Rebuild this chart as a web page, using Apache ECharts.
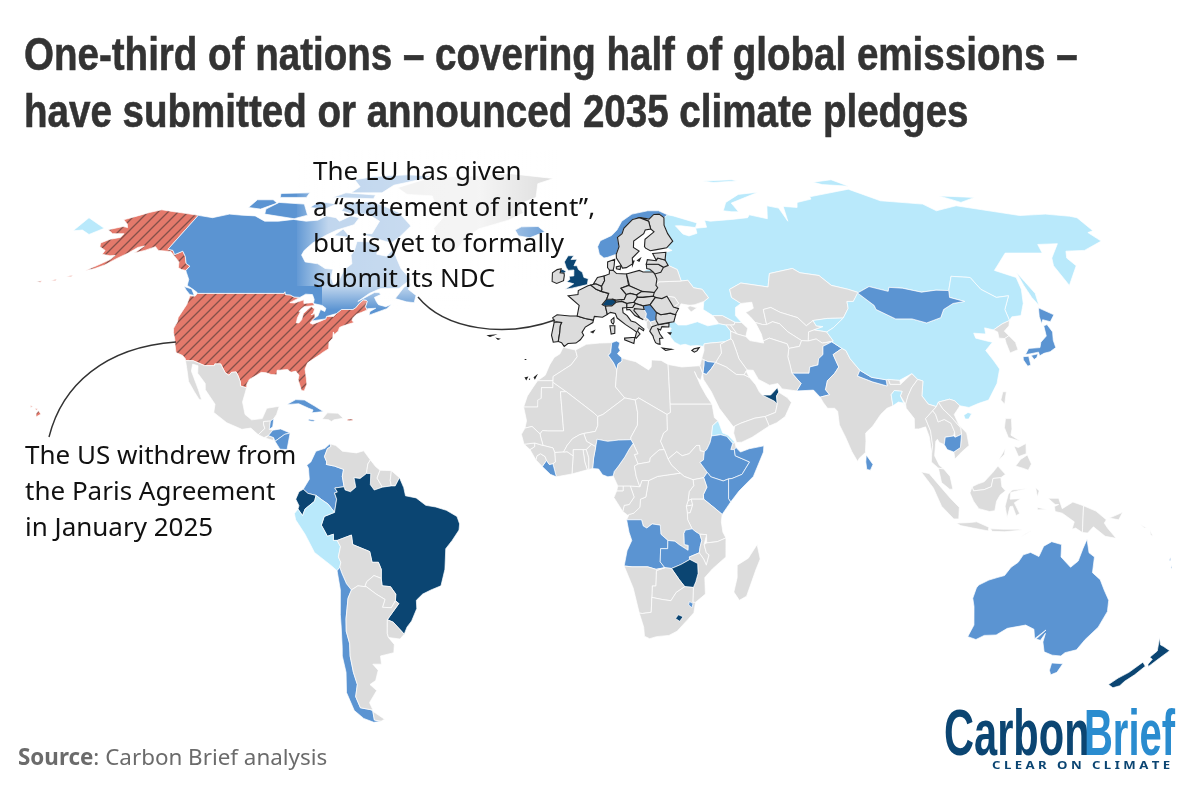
<!DOCTYPE html>
<html>
<head>
<meta charset="UTF-8">
<title>2035 climate pledges</title>
<script src="https://cdn.jsdelivr.net/npm/echarts@6/dist/echarts.min.js"></script>
<style>html,body{margin:0;background:#fff}</style>
</head>
<body>
<div id="main" style="width:1200px;height:793px;"></div>
<script type="text/javascript">
// pledge groups
var submittedStrong = ['Brazil','United Kingdom','Ecuador','Switzerland','United Arab Emirates','Zimbabwe','Lesotho','New Zealand'];
var submitted = ['Canada','Iceland','Norway','Honduras','Nicaragua','Belize','Cuba','Jamaica','Colombia','Chile','Tunisia','Jordan','Serbia','Nigeria','Liberia','Ethiopia','Somalia','Kenya','Angola','Zambia','Eswatini','Pakistan','Nepal','Sri Lanka','Mongolia','Japan','Cambodia','Australia','Vanuatu'];
var announced = ['Russia','China','Turkey','Peru','Eritrea','Bangladesh','Kyrgyzstan'];
var withdrawn = ['United States'];
var euMembers = ['Portugal','Spain','France','Belgium','Netherlands','Germany','Denmark','Poland','Czechia','Slovakia','Austria','Hungary','Slovenia','Italy','Croatia','Greece','Bulgaria','Romania','Lithuania','Latvia','Estonia','Finland','Sweden','Ireland','Cyprus'];

// country outlines, lon,lat
var borders = {
'United States':['-124.7,48.4 -123,48.3 -122.8,49 -95.2,49 -95.15,49.4 -94.6,48.7 -93,48.6 -91.5,48.1 -89.6,48 -92,46.7 -90.5,46.6 -88,47.4 -87.5,46.5 -85,46.7 -84.4,46.5 -84,46 -84.7,45.9 -87,45.7 -87.6,45.1 -88,44.5 -87.5,44.5 -87.8,43 -87.6,41.7 -86.8,41.7 -86.3,42.5 -86.4,44 -85.5,45 -84.8,45.75 -83.4,45.1 -83.4,44 -83.9,43.7 -82.9,44 -82.4,43 -83.1,42.2 -83.4,41.7 -82.5,41.4 -81,41.9 -79,42.7 -79,43.3 -76.8,43.3 -76.2,44 -75,45 -71.5,45 -70.8,45.4 -70,46.7 -69.2,47.4 -68.3,47.3 -67.8,47 -67.8,45.7 -67,44.9 -68.5,44.3 -70,43.8 -70.7,43 -70.8,42.3 -70,41.8 -71.2,41.5 -73,41 -74,40.6 -74.1,39.7 -75,38.9 -75.5,39.5 -75.2,38 -76,37 -75.6,35.4 -77,34.6 -78,33.9 -79.3,33.1 -81,32 -81.4,30.5 -80.5,28.3 -80,26.8 -80.4,25.2 -81.2,25.3 -81.8,26.3 -82.8,27.9 -82.8,29 -84,30 -85.3,29.7 -86.5,30.4 -88,30.3 -89.5,30.2 -89.3,29.1 -91,29.2 -92.5,29.6 -94,29.7 -95,29.1 -97,28 -97.4,26.9 -97.2,25.95 -99.1,26.4 -99.5,27.5 -100.7,29.1 -101.4,29.8 -102.7,29.7 -103.2,29 -104.5,29.6 -106.5,31.75 -108.2,31.75 -108.2,31.33 -111.07,31.33 -114.8,32.5 -117.1,32.55 -117.3,33 -118.4,33.8 -120.6,34.5 -121.9,36.6 -122.5,37.7 -123.8,39.4 -124.3,40.4 -124.1,42 -124.5,43 -124,46.3',
 '-141,69.65 -141,60.3 -139,60 -137.5,58.9 -135.5,59.8 -133.5,58.4 -131.8,56.6 -130,55.9 -130.5,54.8 -132,55 -133.5,55.5 -134.5,57 -136.5,58.1 -139.5,59.7 -144,60 -146,61 -148.5,60 -151.5,59.3 -150,61.2 -151.8,60.8 -153.5,59.3 -156,57.9 -158.5,56.2 -161,55.2 -163.5,54.8 -161,56 -158,57.6 -157.3,58.7 -159,58.6 -162,59 -162,60 -165,61 -166,62 -164,63 -161,63.5 -161,64.5 -165,64.5 -168,65.6 -164,66.5 -162,66.2 -163.5,67.2 -166.5,68.4 -163,69.5 -160,70.5 -156.5,71.3 -152,70.8 -148,70.4',
 '-168.5,53.2 -166.5,53.6 -166.8,53.2','-172.5,52.2 -171,52.6 -171,52.2','-177,51.9 -175.5,52.2 -175.5,51.8','-156.1,18.9 -154.8,19.6 -155.7,20.4 -156.2,19.7','-156.8,21 -156,20.9 -156.4,20.5','-158.3,21.7 -157.7,21.5 -158.1,21.2','-67.2,18.4 -65.6,18.4 -65.7,18 -67.2,18'],
'Canada':['-141,69.65 -135,69 -130,70 -125,69.7 -120,69.5 -115,68 -110,68 -105,68.5 -100,68 -96,68.3 -94,69.5 -90,69 -88,68 -85,69.5 -81.5,69 -82,67 -87,65.5 -90,64 -93,62 -94.5,60 -94.7,58.8 -92.5,57 -88,56.5 -85,55.3 -82.3,55.1 -82,53 -80.5,51.3 -79,51.5 -79,52.8 -78.5,55 -76.7,56.5 -78,58.7 -77.5,60 -78,62.4 -73.5,62.3 -70,61 -69.5,59 -66,58.5 -64.5,60.3 -62,57.5 -60,55.3 -56,52.5 -59,50.3 -65,50.2 -68,49 -70.8,47 -66.5,49.2 -65,49.2 -64.3,48.7 -66,48 -65,47 -64,46.2 -61.5,45.7 -60,46.3 -61,45.2 -66,43.6 -66,44.5 -64.5,45.3 -67,45.2 -67,44.9 -67.8,45.7 -67.8,47 -68.3,47.3 -69.2,47.4 -70,46.7 -70.8,45.4 -71.5,45 -75,45 -76.2,44 -79,43.3 -79,42.7 -83.1,42.2 -82.4,43 -81.7,43.4 -81.5,45 -80,44.5 -80,45.3 -81.5,46 -84,46.4 -84.5,46.5 -84.8,47.5 -86,48.7 -88.2,48.8 -89.6,48 -91.5,48.1 -93,48.6 -94.6,48.7 -95.15,49.4 -95.2,49 -122.8,49 -123.2,49.3 -125,50 -127.5,51 -128,52.5 -130,54.3 -130.5,54.8 -130,55.9 -131.8,56.6 -133.5,58.4 -135.5,59.8 -137.5,58.9 -139,60 -141,60.3',
 '-128.3,50.7 -125.5,50.1 -123.4,48.5 -125,48.7 -127,49.8','-59.3,47.7 -57.5,50.6 -55.5,51.5 -56,50 -53,48.5 -53,46.7 -55.5,46.9',
 '-61.5,66.6 -64,63.5 -66,62 -71,63 -78,64.5 -74,64.5 -73.5,68 -79,70 -85,70 -89.5,71 -89,73.5 -80,73.7 -76,72.8 -68,70.5 -62,67','-117,70 -105,68.7 -101,69.7 -105,73 -115,73.5 -118,71.5','-125,72 -120,71.5 -115.5,73.3 -118,74.3 -124,74.3','-90,76.5 -78,76.5 -75,79 -64,81.5 -62,82.5 -72,83 -85,82.3 -92,81 -88,78.5','-96,75 -80,74.6 -80,75.8 -92,76.5','-116,75 -106,75 -106,76.5 -117,76.3','-102,72 -96,71.5 -93,73 -100,73.8','-87,64 -81,63.5 -85,65.8'],
'Greenland':['-73,78.2 -68,76 -58,75.5 -54,71 -51,69 -53,66 -50,62 -45,60 -43,60 -41,63 -37,65.8 -27,68.3 -22,70.3 -24,73 -18,75 -18,79.5 -12,81.5 -30,83.5 -45,82.5 -60,82 -65,80.8'],
'Iceland':['-24,65.5 -22,66.4 -16,66.5 -13.5,65 -18.5,63.4 -22.5,63.9'],
'Mexico':['-117.1,32.55 -114.8,32.5 -111.07,31.33 -108.2,31.33 -108.2,31.75 -106.5,31.75 -104.5,29.6 -103.2,29 -102.7,29.7 -101.4,29.8 -100.7,29.1 -99.5,27.5 -99.1,26.4 -97.2,25.95 -97.7,22.5 -96.5,19.5 -94.5,18.2 -91.5,18.5 -90.5,21 -87,21.5 -87.5,19.5 -88.2,18.5 -89.1,17.9 -91,17.8 -91,17.2 -90.5,16.1 -92.2,14.6 -94.5,16.2 -97,15.9 -101.5,17.5 -105.5,20 -105.5,22 -109,25.5 -109.5,27 -112.5,29.5 -113,31.3 -114.7,31.7 -114.5,30 -111,25.5 -109.5,23 -110.3,23.2 -112,25 -114.5,27.5 -116,30.5'],
'Guatemala':['-92.2,14.6 -90.5,16.1 -91,17.2 -91,17.8 -89.1,17.9 -89.2,15.9 -88.2,15.7 -89.3,14.4 -90.5,13.9'],
'Belize':['-89.1,17.9 -88.2,18.5 -88.3,16.5 -89.2,15.9'],
'El Salvador':['-90.1,13.8 -89.3,14.4 -87.8,13.9 -87.8,13.2'],
'Honduras':['-89.3,14.4 -88.2,15.7 -86,16 -83.2,15 -84.7,14.7 -87.3,13 -87.8,13.9'],
'Nicaragua':['-87.3,13 -84.7,14.7 -83.2,15 -83.7,11 -85.7,11.1'],
'Cuba':['-84.9,21.9 -82.5,23.1 -80,23 -77,21.6 -74.2,20.2 -77.5,19.9 -77.2,20.6 -78.5,21 -81.5,22.1 -83.5,22'],
'Jamaica':['-78.3,18.4 -76.3,18.1 -76.9,17.8 -78.2,18'],
'Hispaniola':['-74.4,18.4 -73,19.9 -70,19.8 -68.4,18.6 -71,18.2 -71.7,17.8 -72.5,18.2'],
'Colombia':['-71.7,12.4 -71.3,11.8 -72.3,11.2 -73,9.3 -72.3,8 -72.4,7.4 -70.1,7 -67.5,6.2 -67.8,4.5 -67.3,2 -69.9,1.7 -69.2,0.7 -70,0.5 -69.4,-1 -70,-4.2 -71.8,-2.2 -73.5,-1.2 -75.2,-0.1 -77.5,0.4 -78.8,1.4 -77.1,3.8 -77.4,6.5 -77.9,7.2 -76.8,8 -75.5,10.6 -73,11.3'],
'Venezuela':['-71.7,12.4 -70,12 -68,10.6 -64,10.2 -62,10.7 -60,8.5 -60.7,7.5 -61,5.2 -62.8,4 -64.5,4.2 -64,1.9 -65.5,0.8 -67,1.2 -67.3,2 -67.8,4.5 -67.5,6.2 -70.1,7 -72.4,7.4 -72.3,8 -73,9.3 -72.3,11.2 -71.3,11.8'],
'Guyana':['-60,8.5 -58.5,6.9 -57.2,6 -58,4.1 -56.5,1.9 -58.8,1.2 -59.9,2.5 -59.8,5.2 -61,5.2 -60.7,7.5'],
'Suriname':['-57.2,6 -54,5.9 -54.3,3.5 -54,2.2 -56.5,1.9 -58,4.1'],
'French Guiana':['-54,5.9 -51.7,4.2 -52.9,2.2 -54,2.2 -54.3,3.5'],
'Brazil':['-51.7,4.2 -52.9,2.2 -54,2.2 -56.5,1.9 -58.8,1.2 -59.9,2.5 -59.8,5.2 -61,5.2 -62.8,4 -64.5,4.2 -64,1.9 -65.5,0.8 -67,1.2 -67.3,2 -69.9,1.7 -69.2,0.7 -70,0.5 -69.4,-1 -70,-4.2 -72.9,-5.2 -73.8,-7.3 -72.2,-10 -70.5,-9.5 -70.6,-11 -69.5,-11 -65.4,-9.7 -65.2,-12 -60.5,-13.7 -60.1,-16.3 -58.3,-16.3 -57.7,-18 -58,-20.2 -58,-22 -55.6,-22.2 -54.3,-24 -54.6,-25.6 -53.7,-26.3 -57.6,-30.2 -56,-30.8 -53.4,-33.7 -52.2,-32 -50.5,-30.5 -48.6,-27.5 -48.5,-25.5 -46.5,-24 -44,-23 -41,-22 -39.5,-18 -38.9,-13 -37,-11 -35,-8.5 -34.8,-7 -35.5,-5.2 -38.5,-3.7 -41.5,-2.9 -44.3,-2.5 -47,-0.7 -50,-0.2 -50.5,1.8'],
'Ecuador':['-75.2,-0.1 -77.5,0.4 -78.8,1.4 -80,0.8 -80.9,-1 -80,-2.6 -80.3,-3.4 -79,-5 -78.3,-3.4 -75.6,-1.5'],
'Peru':['-80.3,-3.4 -81.3,-4.5 -81,-6 -78.5,-9.5 -76.2,-13.9 -72,-17 -70.4,-18.35 -69.5,-17.5 -69,-16.3 -69.5,-15 -68.7,-12.5 -69.5,-11 -70.6,-11 -70.5,-9.5 -72.2,-10 -73.8,-7.3 -72.9,-5.2 -70,-4.2 -71.8,-2.2 -73.5,-1.2 -75.2,-0.1 -75.6,-1.5 -78.3,-3.4 -79,-5'],
'Bolivia':['-69.5,-11 -68.7,-12.5 -69.5,-15 -69,-16.3 -69.5,-17.5 -69.1,-19 -68.2,-21.5 -67,-23 -65,-22 -63,-22.2 -62.3,-21 -60,-19.5 -58,-20.2 -57.7,-18 -58.3,-16.3 -60.1,-16.3 -60.5,-13.7 -65.2,-12 -65.4,-9.7'],
'Paraguay':['-62.3,-21 -60,-19.5 -58,-20.2 -58,-22 -55.6,-22.2 -54.3,-24 -54.6,-25.6 -56,-27.3 -58.6,-27.2 -57.6,-25.3 -60,-24 -62.6,-22.2 -63,-22.2'],
'Chile':['-70.4,-18.35 -69.5,-17.5 -69.1,-19 -68.2,-21.5 -67,-23 -68.3,-25 -69.7,-30 -70.5,-33 -70.4,-36 -71.3,-39 -71.7,-43 -71.5,-46 -73,-49 -72.3,-51.8 -69,-52.3 -68.5,-52.7 -68.6,-54.9 -66.5,-55.2 -69,-55.5 -72,-54.5 -74.5,-52.5 -75.6,-48 -74,-43 -73.7,-39 -73,-37 -71.7,-32 -71.2,-29 -70.2,-23'],
'Argentina':['-67,-23 -65,-22 -63,-22.2 -62.6,-22.2 -60,-24 -57.6,-25.3 -58.6,-27.2 -56,-27.3 -54.6,-25.6 -53.7,-26.3 -57.6,-30.2 -58.4,-33.5 -58.3,-34.5 -57,-36.2 -57.7,-38.2 -62,-39 -62.3,-41 -65,-41 -63.8,-42.5 -65.4,-45 -67.5,-46 -65.8,-47.5 -69,-50.5 -68.4,-52.3 -69,-52.3 -72.3,-51.8 -73,-49 -71.5,-46 -71.7,-43 -71.3,-39 -70.4,-36 -70.5,-33 -69.7,-30 -68.3,-25','-68.5,-52.7 -65.2,-54.7 -66.5,-55.2 -68.6,-54.9'],
'Uruguay':['-57.6,-30.2 -56,-30.8 -53.4,-33.7 -54.9,-34.9 -58.3,-34.5 -58.4,-33.5'],
'Morocco':['-5.9,35.8 -2.2,35.1 -1.7,33.5 -3.5,31.5 -8.7,28.7 -8.7,27.67 -13.2,27.67 -11,29 -9.8,31.5 -8.5,33.3 -6.8,34.2'],
'Western Sahara':['-13.2,27.67 -8.7,27.67 -8.7,26 -12,26 -12,23.4 -13,21.3 -17,21.3 -16,24 -14.5,26'],
'Mauritania':['-17,21.3 -13,21.3 -13,23 -12,23.4 -12,26 -8.7,26 -8.7,27.3 -4.8,25 -6.5,25 -5.5,15.5 -10,15.5 -11.5,15.6 -12.2,14.8 -14.5,16.6 -16.5,16.2 -16.1,18'],
'Algeria':['-2.2,35.1 1,36.5 5,36.8 8.6,36.9 8.2,34.5 7.5,33.8 9,32 9.9,30.3 9.4,26.2 12,23.5 5.7,19.5 4.2,19 3.2,19.8 -4.8,25 -8.7,27.3 -8.7,28.7 -3.5,31.5 -1.7,33.5'],
'Tunisia':['8.6,36.9 10,37.3 11,36.9 10.6,35.7 11,35 10.2,34.2 11.5,33.2 11.5,32.4 10.3,31.7 9.9,30.3 9,32 7.5,33.8 8.2,34.5'],
'Libya':['11.5,33.2 13,32.8 15.5,32.3 19.2,30.3 20,31 20.2,32.7 23,32.6 25,31.6 25,22 25,20 24,19.5 16,23.5 15,23 12,23.5 9.4,26.2 9.9,30.3 10.3,31.7 11.5,32.4'],
'Egypt':['25,31.6 29,31 32.2,31.2 34.3,31.3 34.9,29.5 34.2,27.8 33.2,28.5 32.6,29.9 34,26.6 35.5,24 37,22 25,22'],
'Mali':['-12.2,14.8 -11.5,15.6 -10,15.5 -5.5,15.5 -6.5,25 -4.8,25 3.2,19.8 4.2,19 4.2,16.8 3.5,15.4 0.2,14.9 -1,14.6 -3,13.6 -4.5,12 -5.5,10.4 -8,10.3 -8.5,11.4 -11.3,12 -12,14'],
'Niger':['4.2,19 5.7,19.5 12,23.5 15,23 15.6,20 15.5,16.9 13.6,14 13.6,13.4 10,13.3 7,13 4,13.5 3.6,11.7 2.4,12.3 1,13 0.2,14.9 3.5,15.4 4.2,16.8'],
'Chad':['15,23 16,23.5 24,19.5 24,15.7 22.9,15 22,13 23,11 21.5,10.9 19,9 18.8,8 15.5,7.5 14.5,9.8 15.5,10 14.2,12.5 13.6,13.4 13.6,14 15.5,16.9 15.6,20'],
'Sudan':['25,22 37,22 37.5,18.7 38.5,18 36.9,16.8 36.5,14.3 36,12.7 35,11 34.3,10.5 33.1,10.7 33,12 32.5,12 32.1,12 30,10 28,9.5 26.5,10.5 24,8.7 23,11 22,13 22.9,15 24,15.7 24,19.5 25,20'],
'South Sudan':['33.1,10.7 34.3,10.5 34,8.5 33,7.9 35,5.5 34,4.2 31,3.7 28.5,4.5 27.4,5.3 25,7.2 24,8.7 26.5,10.5 28,9.5 30,10 32.1,12 32.5,12 33,12'],
'Eritrea':['38.5,18 39.7,15 41.2,14.5 43.1,12.7 42.4,12.5 40.8,14.2 39.1,14.6 36.5,14.3 36.9,16.8'],
'Djibouti':['43.1,12.7 43.3,11.5 42.8,11 41.8,11 42.4,12.5'],
'Ethiopia':['36.5,14.3 39.1,14.6 40.8,14.2 42.4,12.5 41.8,11 42.8,11 43,9.5 47,8 44.8,5 42,4 41,3.9 39.5,3.4 36,4.4 35,5.5 33,7.9 34,8.5 34.3,10.5 35,11 36,12.7'],
'Somalia':['43.3,11.5 44.5,10.4 47,11.2 51.2,11.9 51,10.4 48,4.5 44,1 41.6,-1.7 41,-0.9 41,3.9 42,4 44.8,5 47,8 43,9.5 42.8,11'],
'Kenya':['41,3.9 41,-0.9 41.6,-1.7 39.2,-4.7 37.7,-3.6 34,-1 33.9,0.1 34.9,1.9 34,4.2 35,5.5 36,4.4 39.5,3.4'],
'Uganda':['34,4.2 34.9,1.9 33.9,0.1 34,-1 30.5,-1 29.6,-1.4 29.9,0.8 31.2,2.3 31,3.7'],
'Rwanda':['30.5,-1 30.9,-2.4 29.1,-2.7 29.6,-1.4'],
'Burundi':['30.9,-2.4 30.2,-4.3 29.4,-4.4 29.1,-2.7'],
'Tanzania':['34,-1 37.7,-3.6 39.2,-4.7 39,-6.5 39.5,-9 40.4,-10.4 38,-11.3 35,-11.6 34.9,-9.6 33,-9.5 32,-9 30.8,-8.2 29.5,-6 29.4,-4.4 30.2,-4.3 30.9,-2.4 30.5,-1'],
'DR Congo':['12.3,-6 13,-4.7 14.3,-4.4 16,-3 16.2,-1 17.7,-0.5 18,1 18.5,3.5 21,4.5 25,5 27.4,5.3 28.5,4.5 31,3.7 31.2,2.3 29.9,0.8 29.6,-1.4 29.1,-2.7 29.4,-4.4 29.5,-6 30.8,-8.2 28.9,-8.5 28.5,-9.3 28.7,-12 29.8,-12.2 29.8,-13.4 27.2,-12 26,-11.2 24,-11 22,-9.5 21.8,-7.3 19.5,-7 18,-8 17,-7.5 16.5,-6'],
'Angola':['12.3,-6 16.5,-6 17,-7.5 18,-8 19.5,-7 21.8,-7.3 22,-9.5 24,-11 24,-13 22,-13 22,-16.2 23.4,-17.6 20.9,-18 18.5,-17.4 14,-17.4 11.75,-17.2 12.5,-13.5 13.8,-11 13,-9'],
'Zambia':['24,-11 26,-11.2 27.2,-12 29.8,-13.4 29.8,-12.2 28.7,-12 28.5,-9.3 28.9,-8.5 30.8,-8.2 32,-9 33,-9.5 33.6,-11 33.2,-12.5 33,-14 30.2,-15 30.4,-15.6 28,-16.8 25.3,-17.8 23.4,-17.6 22,-16.2 22,-13 24,-13'],
'Malawi':['33,-9.5 34.9,-9.6 34.3,-12 35,-14 35.8,-14.5 35.2,-17 34.3,-15.5 33,-14 33.2,-12.5 33.6,-11'],
'Mozambique':['40.4,-10.4 40.6,-15 37,-17.9 35,-20 35.5,-24 32.8,-26 32,-26 31.9,-22.4 32.5,-21 33,-19 32.7,-16.6 30.4,-15.6 30.2,-15 33,-14 34.3,-15.5 35.2,-17 35.8,-14.5 35,-14 34.3,-12 35,-11.6 38,-11.3'],
'Zimbabwe':['30.4,-15.6 32.7,-16.6 33,-19 32.5,-21 31.9,-22.4 29.4,-22.2 27.7,-20.5 25.3,-17.8 28,-16.8'],
'Botswana':['25.3,-17.8 27.7,-20.5 29.4,-22.2 27,-23.6 25.6,-25.6 23,-25.3 20,-24.8 20,-22 21,-22 21,-18.3 23.4,-17.6'],
'Namibia':['11.75,-17.2 14,-17.4 18.5,-17.4 20.9,-18 23.4,-17.6 21,-18.3 21,-22 20,-22 20,-28.4 17.4,-28.7 16.5,-28.6 14.5,-22.5'],
'South Africa':['16.5,-28.6 17.4,-28.7 20,-28.4 20,-24.8 23,-25.3 25.6,-25.6 27,-23.6 29.4,-22.2 31.9,-22.4 32,-26 32.8,-26 32.5,-28.5 31,-30 28,-33 25.7,-34 22,-34.3 20,-34.8 18.4,-34.2 18,-32'],
'Lesotho':['28,-29 29.4,-29.5 28.5,-30.6 27.2,-29.9'],
'Eswatini':['31,-25.8 32.1,-26.3 31.8,-27.3 30.8,-26.6'],
'Madagascar':['49.3,-12 50.4,-15.5 49.5,-18 47.5,-24.5 45.5,-25.5 43.7,-23.5 44.3,-20 44,-17 47,-15.3'],
'Congo':['11.2,-4 12.6,-4.9 13,-4.7 14.3,-4.4 16,-3 16.2,-1 17.7,-0.5 18,1 18.5,3.5 16.6,3.5 16,2 13.3,2.2 14.4,-0.5 13,-2.3 11.6,-2.5'],
'Gabon':['9.5,1 11.3,1 11.3,2.2 13.3,2.2 14.4,-0.5 13,-2.3 11.6,-2.5 11.2,-4 8.7,-0.6'],
'Equatorial Guinea':['9.8,2.2 11.3,2.2 11.3,1 9.5,1'],
'Cameroon':['8.5,4.6 9.8,2.2 11.3,2.2 13.3,2.2 16,2 15,4.5 14.5,7 15.5,7.5 14.5,9.8 15.5,10 14.2,12.5 13,11 11.8,9.2 10,7 8.8,5.7'],
'Nigeria':['2.7,6.4 4.4,6.3 5.5,4.9 7,4.4 8.5,4.6 8.8,5.7 10,7 11.8,9.2 13,11 14.2,12.5 13.6,13.4 10,13.3 7,13 4,13.5 3.6,11.7 3,9'],
'CAR':['14.5,7 15,4.5 16,2 16.6,3.5 18.5,3.5 21,4.5 25,5 27.4,5.3 25,7.2 24,8.7 23,11 21.5,10.9 19,9 18.8,8 15.5,7.5'],
'Benin':['1.6,6.2 2.7,6.4 3,9 3.6,11.7 2.4,12.3 0.9,11 1.6,9'],
'Togo':['1.2,6.1 1.6,6.2 1.6,9 0.9,11 0,11 0.5,8'],
'Ghana':['-3.1,5.1 1.2,6.1 0.5,8 0,11 -2.8,11 -2.8,9.5 -2.9,8'],
'Ivory Coast':['-7.5,4.4 -3.1,5.1 -2.9,8 -2.8,9.5 -4.5,10.5 -5.5,10.4 -8,10.3 -7.8,8 -8.5,7.6'],
'Burkina Faso':['-5.5,10.4 -4.5,10.5 -2.8,9.5 -2.8,11 0,11 0.9,11 2.4,12.3 1,13 0.2,14.9 -1,14.6 -3,13.6 -4.5,12'],
'Liberia':['-11.5,6.9 -9.2,5 -7.5,4.4 -8.5,7.6 -9.5,7.4 -10.3,8.4'],
'Sierra Leone':['-13.3,8.5 -11.5,6.9 -10.3,8.4 -10.7,9.3 -12,10 -13,9.5'],
'Guinea':['-15,11 -13.3,8.5 -13,9.5 -12,10 -10.7,9.3 -10.3,8.4 -9.5,7.4 -8.5,7.6 -7.8,8 -8,10.3 -8.5,11.4 -11.3,12 -13.7,12.6 -13.7,11.7'],
'Guinea-Bissau':['-16.7,12.3 -13.7,12.6 -13.7,11.7 -15,11'],
'Senegal':['-17.5,14.7 -16.5,16.2 -14.5,16.6 -12.2,14.8 -12,14 -11.3,12 -13.7,12.6 -16.7,12.3'],
'Georgia':['40,43.5 43,43.5 46.5,41.9 46,41.2 43.5,41.2 41.5,41.5'],
'Armenia':['43.5,41.2 45,41.2 46.5,39 44.7,39.7'],
'Azerbaijan':['45,41.2 46,41.2 46.5,41.9 48.5,41.8 50,40.4 49,38.4 46.5,39'],
'Turkey':['26.3,41.8 28,42 29,41.2 31.5,41.2 35,42 38,41 41.5,41.5 43.5,41.2 44.7,39.7 44.4,37.8 42.4,37.1 38,36.8 36.2,36.6 36,36 34,36.2 32,36.1 30.5,36.5 29,36.3 27.4,37 26.3,38.3 26.2,39.5 26.8,40.4 26.1,40.7 26.3,41.7'],
'Russia':['28,59.5 30.2,60 28.5,60.7 31,62.5 29.7,64.5 29,66.9 29.5,69 31,69.8 33,69.5 41,67.5 40,66.2 35,66.7 33,66.7 35,64.4 37,63.9 40,64.6 40,66 44,66.3 44,68.3 46,68 54,68.5 60,69 61,69.8 67,68.7 69,72.5 73,71.8 74,68 75,72.3 80,72 81,73.5 87,74.5 87,75.2 104,77.7 113,74 128,73 131,71 140,72.5 160,69.6 170,70 178,69.4 180,68.98 180,65.3 177.5,64.8 179,62.5 170,60 163.5,59.8 162,58 163.2,56 161.8,55 156.7,51 155.7,56 157,58 163,61.8 156,61.6 155,59.3 142.5,59.3 135.2,54.8 141,53 140.5,50 138,46.5 135,43.5 132,43.2 130.7,42.3 131,45 135,48.4 130.8,48 127.5,50 126,53 120,53.3 117,49.7 113,49.8 108,49.3 102.5,50.3 98.3,50.5 97.5,49.5 92,50.7 87.8,49.2 85,50 80,51 77,53.5 71,54.2 69,55.3 61,54 59.5,50.6 51,51.6 47,50 47,48 49.5,46.5 47.5,45.5 47,43.5 48.5,41.8 46.5,41.9 43,43.5 40,43.5 37.3,45 38,47 39.7,47.9 38.2,50 35.5,50.4 34,52.3 31.8,52.1 31,55 28.2,56.1 27.4,57.5',
 '20,54.4 22.8,54.4 22,55.1 20.5,54.9','52,71 55,70.7 57.5,70.7 56,73.3 68,76.7 60,76 54,73.5','95,79.2 105,78.7 100,81 92,80','142,54.3 143,52 144,49 142.5,46 142,48 142,51','137,75.5 150,75 143,73.5','48,80.5 60,81 62,80.5 52,79.9','-180,68.98 -175,67.5 -170,66 -173,64.3 -177,65.5 -180,65.3'],
'Ukraine':['22.7,49.2 24,50.4 23.5,51 24.5,51.9 31.8,52.1 34,52.3 35.5,50.4 38.2,50 39.7,47.9 38,47 35,46.2 33,46 35.5,45.4 33.5,44.4 32.5,45.4 33.5,46 30.7,46.4 29.7,45.2 28.2,45.6 30,46.5 29,48 26.6,48.3 24.9,47.7 22.9,48 22.3,48.3'],
'Belarus':['23.5,53.9 25.5,54.3 26.6,55.6 28.2,56.1 31,55 31.8,52.1 24.5,51.9 23.5,51 24,52.6'],
'Moldova':['26.6,48.3 29,48 30,46.5 28.2,45.6'],
'Kazakhstan':['47,50 51,51.6 59.5,50.6 61,54 69,55.3 71,54.2 77,53.5 80,51 85,50 87.8,49.2 87.5,49.1 85,47 83,47 82.5,45.3 80,42.9 75,42.8 70.5,42.3 68,41 66,43 61,44.3 58.5,45.5 56,45 56,41.3 54.8,41.3 52.7,41.8 51.5,43.2 50.3,44.3 51,44.5 53,45.3 53,46.8 49.5,46.5 47,48'],
'Uzbekistan':['56,45 58.5,45.5 61,44.3 66,43 68,41 70.5,42.3 71,41 73,40.8 70,40 68.2,39.5 67.5,37.3 65.5,37.4 62,39.5 60,41.5 58,42 56,41.3'],
'Turkmenistan':['52.7,41.8 54.8,41.3 56,41.3 58,42 60,41.5 62,39.5 65.5,37.4 64.5,36 61.2,35.5 61,36.6 56,38 54,37.3 53.8,39'],
'Kyrgyzstan':['70.5,42.3 75,42.8 80,42.9 76,40.5 73.7,39.5 70,40 73,40.8 71,41'],
'Tajikistan':['68.2,39.5 70,40 73.7,39.5 75,37.3 71.5,36.8 70,37.8 67.5,37.3'],
'Afghanistan':['61.2,35.5 64.5,36 65.5,37.4 67.5,37.3 70,37.8 71.5,36.8 74.5,37.1 71.5,36 71,34 69.5,33 69,31.5 66.5,31 66,29.5 61,29.5 60.8,31.5 60.5,33.5'],
'Pakistan':['61,29.5 66,29.5 66.5,31 69,31.5 69.5,33 71,34 71.5,36 74.5,37.1 77,35.5 74,34 74.5,32.5 75,31 73.5,29.5 71,27.7 70,25.5 71,24.3 68.2,23.7 66.5,25.4 61.6,25.2 63.2,27'],
'Iran':['44.7,39.7 46.5,39 49,38.4 50,37.4 54,36.8 54,37.3 56,38 61,36.6 61.2,35.5 60.5,33.5 60.8,31.5 61,29.5 63.2,27 61.6,25.2 57.5,25.7 56.5,27 54,26.6 51,28 49.8,30.2 48,30.3 46,33 45.5,34.8 44.8,37.5 44.4,37.8'],
'Iraq':['42.4,37.1 44.4,37.8 44.8,37.5 45.5,34.8 46,33 48,30.3 47.7,30 47,29.1 44.7,29.2 42,31 39,32.1 41,34.4 41,36.5'],
'Syria':['36,36 36.2,36.6 38,36.8 42.4,37.1 41,36.5 41,34.4 39,32.1 36.8,32.3 35.7,32.7 35,33 35.9,35'],
'Jordan':['35.7,32.7 36.8,32.3 39,32.1 37.5,30.5 36,29.2 35,29.5 35.5,31.5'],
'Israel':['34.3,31.3 35,33 35.7,32.7 35.5,31.5 35,29.5 34.9,29.5'],
'Saudi Arabia':['34.9,29.5 35,29.5 36,29.2 37.5,30.5 39,32.1 42,31 44.7,29.2 47,29.1 48.4,28.5 50,26.7 50.8,25 51.6,24.2 55,22.7 55.7,22 55,20 52,19 49,18.6 45,17.4 43.2,16.7 42.8,16.5 39,21 37,25 35,28'],
'Kuwait':['47.7,30 48.4,28.5 47,29.1'],
'United Arab Emirates':['51.6,24.2 54,24.2 56.2,26 56.4,24.9 55.7,24 55.7,22 55,22.7'],
'Oman':['56.4,24.9 58.7,23.6 59.8,22.4 57.7,19 55.2,17.5 53,16.7 52,19 55,20 55.7,22 55.7,24'],
'Yemen':['43.2,16.7 45,17.4 49,18.6 52,19 53,16.7 48,14 45,12.8 43.5,12.7 42.8,15'],
'India':['77,35.5 78,35 78.8,33 81,30.2 80,28.8 84,27.4 88,26.4 88.1,27.9 88.8,28 89,26.8 92,26.8 96,29.4 97.3,28 95,26 93.5,24 92.5,22 91.3,24 92,25.1 89.8,25.3 88.7,24.3 88.8,21.6 87,21 85,19.5 82.5,16.7 80.3,15 80.2,13 79.8,10.3 78,8.9 77.5,8.1 76,10.5 74.5,14 73,17 72.8,20.3 72,21 70,21 69,22.3 68.2,23.7 71,24.3 70,25.5 71,27.7 73.5,29.5 75,31 74.5,32.5 74,34'],
'Nepal':['80,28.8 81,30.2 84,28.5 88.1,27.9 88,26.4 84,27.4'],
'Bhutan':['88.8,28 92,27.8 92,26.8 89,26.8'],
'Bangladesh':['88.7,24.3 89.8,25.3 92,25.1 91.3,24 92.5,21 91.8,22.3 90.5,22.5 88.8,21.6'],
'Sri Lanka':['80,9.7 81.8,7.4 81,6 80,6.2 79.8,8'],
'China':['73.7,39.5 76,40.5 80,42.9 82.5,45.3 83,47 85,47 87.5,49.1 91,46 91,45 96,42.7 101,42.7 105,41.7 110,43 112,45 116,46.5 120,47 116,48 117,49.7 120,53.3 126,53 127.5,50 130.8,48 135,48.4 131,45 130.7,42.3 128,41.5 124.4,40 122,40.5 121.5,39 118,39.2 118,38 121,37.3 122.5,37 119.5,35 121,32.5 122,30.5 120,27 116.5,23 113.5,22.2 110.5,21.2 108,21.6 106.7,22.8 105.3,23.2 102,22.5 101.2,21.4 99,22 97.5,24 98.7,27.6 97.3,28 96,29.4 92,27.8 88.8,28 88.1,27.9 84,28.5 81,30.2 78.8,33 78,35 77,35.5 74.5,37.1 75,37.3','108.7,19.3 110,20 111,19.7 110,18.4 109,18.4'],
'Taiwan':['121,25 122,25 120.9,22 120,23'],
'Mongolia':['87.8,49.2 92,50.7 97.5,49.5 98.3,50.5 102.5,50.3 108,49.3 113,49.8 117,49.7 116,48 120,47 116,46.5 112,45 110,43 105,41.7 101,42.7 96,42.7 91,45 91,46 87.5,49.1'],
'North Korea':['124.4,40 128,41.5 130.7,42.3 129.7,41 127.5,39.7 128.3,38.6 126.7,37.9 125,38 125.4,39.5'],
'South Korea':['126.7,37.9 128.3,38.6 129.4,37 129.2,35.2 126.5,34.4 126.5,36.7'],
'Japan':['130.9,34 132.5,35.5 136,35.7 137,37 139.5,38.5 140.3,41 141.5,41.3 142,39.5 141,37.5 140.7,35.7 138.5,34.7 136.5,34.3 135,33.7 135,34.6 132.5,34.2','140,41.5 140.5,43.3 141.8,45.4 145.3,43.7 143,42 141,42.5','130,33.5 131.7,33.6 131.5,31.5 130.5,31.2 129.8,32.7','132.5,33.8 134.7,34.2 134,33.3 133,32.8'],
'Myanmar':['92.5,22 93.5,24 95,26 97.3,28 98.7,27.6 97.5,24 99,22 101.2,21.4 100,20.4 97.7,18.5 98.8,15.5 99,12 98.5,10 98.3,14 97.5,16.5 95.5,16 94.3,16 94.5,18.5 92.5,21'],
'Thailand':['97.7,18.5 100,20.4 100.7,19.5 101.2,17.7 103,18.3 104.8,17.4 105.6,15.3 105.2,14.3 102.8,14 102.3,12.2 101,12.7 100.5,13.5 100,13 99.3,9.5 100.5,7.2 101.7,6.3 100.2,6.5 98.3,8 98.5,10 99,12 98.8,15.5'],
'Laos':['101.2,21.4 102,22.5 103,20.8 105,19 107.5,16.2 107.5,14.7 105.6,14 105.6,15.3 104.8,17.4 103,18.3 101.2,17.7 100.7,19.5 100,20.4'],
'Vietnam':['102,22.5 105.3,23.2 106.7,22.8 108,21.6 106,19.5 107,17 109,15 109.3,12 107,10.4 105,8.7 104.8,10.4 106.8,11.5 107.5,14.7 107.5,16.2 105,19 103,20.8'],
'Cambodia':['102.3,12.2 102.8,14 105.2,14.3 105.6,14 107.5,14.7 106.8,11.5 104.8,10.4 103,11'],
'Malaysia':['100.2,6.5 101.7,6.3 103.4,4.5 104.2,1.4 103.3,1.4 101,3','109.6,2 111.3,2.7 113,3.2 115.5,5.5 117,7 119,5 117.7,4.2 115.5,4 115,2 113,1.3 110,1'],
'Indonesia':['109,0.5 109.6,2 110,1 113,1.3 115,2 115.5,4 117.7,4.2 118,2 119,1 117.5,0 116.5,-1.5 116,-3.8 114.5,-4 111.5,-3.3 110,-1.5','95.3,5.6 97.5,5.2 100.5,2.2 103.5,-0.8 106,-3 105.9,-5.8 104.5,-5.8 101,-2.7 98.7,1.7','105.3,-6.8 108.5,-6.7 111,-6.5 114.5,-7.8 114.4,-8.7 110,-8 106.5,-7.4','115,-8.2 119,-8.3 122.8,-8.3 124,-8.5 119,-8.9 115.5,-8.8','123.5,-10.3 127,-8.4 125,-9.3','119.5,-5.5 120.3,-2.8 121,-2.7 122,-5 123,-4.5 121.5,-1.9 123.3,-0.9 120.3,-1 120.5,0.6 125,1.6 120.9,1.2 119.8,0.2 118.9,-2.7','127.5,1.8 128.5,1 128,-0.5','128,-3 130.8,-3.5 128,-3.6','131,-0.8 134,-0.8 135,-3.3 138,-1.7 141,-2.6 141,-9.1 139,-8 138,-8.3 138.5,-6.5 135,-4.4 133,-4 132.8,-2.8 134,-2.3 133,-2.3'],
'Papua New Guinea':['141,-2.6 144.5,-3.9 147.5,-6 147,-6.8 148,-8 150.7,-10.5 147.5,-10 144,-7.7 142.5,-9.2 141,-9.1','148.3,-5.6 152,-4.2 151,-6'],
'Solomon Islands':['157,-7 159,-8 158.5,-8','160,-8.5 161,-10 160.3,-9.6'],
'Vanuatu':['167,-15 167.3,-16 166.8,-15.8','168,-17 168.4,-17.8 168,-17.6'],
'Philippines':['120.5,18.5 122.2,18.5 122,16 121.5,14.5 124,13 120.7,13.9 119.9,16.3','122,7 123.5,8.6 125.5,9.7 126.5,7.5 125.5,6 124,6.5','122,11.8 123.2,11.5 125.5,12.5 125.2,10 123,9.3','117.3,8.4 119.5,11.3 119,9.8'],
'Australia':['113.7,-22.5 114.2,-21.8 116.8,-20.6 119,-20 121,-19.5 122.3,-17.5 124,-16.3 125,-14.5 127,-13.9 129.5,-14.9 130.5,-12.4 132.6,-11.3 135.5,-12 135.8,-15 139.3,-17.5 141,-16 141.7,-13 142.5,-10.7 143.6,-14 145.3,-15 146,-18.8 148.8,-20.5 150.8,-23 153,-25.5 153.6,-28.2 152.8,-32 150.8,-35 150,-37.5 147,-38.2 146.3,-39 143.5,-38.8 140.5,-38 138.5,-35.6 138,-33.5 137.5,-35.2 136,-34.9 137.7,-32.7 135.5,-34.8 134,-32.5 131,-31.5 126,-32.3 123.5,-33.9 120,-34 118,-35 115.2,-34.3 115.7,-31.5 114.2,-27 113.3,-25','144.7,-40.7 148.3,-40.9 148,-43 146.5,-43.6 145.3,-42.5'],
'New Zealand':['172.8,-34.5 174.5,-36.3 175.8,-36.7 178.5,-37.7 177,-39.5 175.3,-41.6 174.7,-41 175,-39.8 173.8,-39.3 174.8,-37.8','172.7,-40.5 174.3,-41.5 172.8,-43.6 171,-45.2 170.3,-46.3 168.5,-46.8 166.5,-46 168.3,-44.4 170.5,-43'],
'Norway':['5,61 5.5,59 7,58 8.3,58.2 11.2,59 12.3,61 12,63.5 13.7,64.5 14.5,66 18,68.5 20.6,69 21,69 24,68.6 26,69.9 28,70 29.5,69 31,69.8 28,71 24,71 18,70 14,68 12,65.5 10,64 6,62.6'],
'United Kingdom':['-5.7,50 -3.5,50.3 1.4,51.2 1.7,52.7 0.3,53 -0.2,54.3 -1.5,55 -2,56 -3,56 -2,57.7 -4,57.6 -3.1,58.6 -5,58.6 -6.2,57 -5.5,55.5 -4.8,54.8 -3,54.9 -3,53.4 -4.5,53.3 -4.3,52.5 -5.3,51.9 -3,51.4','-7.2,55.2 -5.5,54.6 -6.2,54.1 -7.5,54.2'],
'Switzerland':['6,46.2 7.5,47.6 9.6,47.5 10.4,46.8 9,45.9 7.8,45.9 7,45.8'],
'Bosnia':['16,45.2 19,45 19.6,44 19.3,43 18.5,42.5 17.5,43 15.8,44.7'],
'Serbia':['19,45 18.8,45.9 21,46.2 22.7,44.3 22.4,43 22.4,42.3 20.6,41.9 20,42.5 19.3,43 19.6,44'],
'Montenegro':['18.5,42.5 19.3,43 20,42.5 19.4,41.9'],
'Albania':['19.4,41.9 20,42.5 20.6,41.9 21,40.8 20.2,39.7 19.4,40.5'],
'North Macedonia':['20.6,41.9 22.4,42.3 23,41.3 21,40.8'],
// EU members come last so the dark outline stays on top
'Portugal':['-9.5,38.7 -9,41 -8.8,41.9 -8.1,42 -6.5,41.8 -6.9,41 -7,39.5 -7.4,37.2 -8.9,37','-28.5,38.6 -27,38.7 -28,38.4','-25.8,37.9 -25.2,37.8 -25.5,37.7','-17.2,32.8 -16.7,32.8 -16.9,32.6'],
'Spain':['-8.8,41.9 -9.3,43 -8,43.7 -4,43.4 -1.8,43.4 0.7,42.8 3.2,42.4 3,41.8 0.7,40.7 -0.3,39.4 0.2,38.7 -0.8,37.6 -2.1,36.8 -4.5,36.7 -5.6,36 -6.4,36.9 -7.4,37.2 -7,39.5 -6.9,41 -6.5,41.8 -8.1,42','2.5,39.5 3.4,39.8 3,39.3','-16.8,28.4 -16.2,28.5 -16.5,28','-15.7,28.1 -15.4,28 -15.6,27.8','-14.2,28.5 -13.6,28.9 -14,28.2'],
'France':['-1.8,43.4 -1.2,46 -4.7,48.4 -1.6,48.7 -1.5,49.7 1.6,50.9 2.5,51.1 4.2,50 5.8,49.5 8.2,49 7.5,47.6 6,46.2 7,45.8 7.5,43.8 6,43.1 3.5,43.3 3.2,42.4 0.7,42.8','8.6,42.4 9.5,43 9.5,41.9 9.2,41.4 8.7,41.8'],
'Belgium':['2.5,51.1 4.2,51.4 6,50.8 6.1,50 5.8,49.5 4.2,50'],
'Netherlands':['3.4,51.4 4.7,53 6.9,53.4 7,52.2 6,50.8 4.2,51.4'],
'Germany':['6.9,53.4 8.6,53.9 8.7,54.9 9.9,54.8 11,54 14.2,53.9 14.7,51 12.2,50.3 13.8,48.7 13,47.5 10.4,47.3 9.6,47.5 7.5,47.6 8.2,49 5.8,49.5 6.1,50 6,50.8 7,52.2'],
'Denmark':['8.1,55.5 8.2,57 10.6,57.7 10.3,56 9.9,54.8 8.7,54.9','11,55.7 12.6,56 12.2,55 11,55.2'],
'Poland':['14.2,53.9 18.5,54.8 19.7,54.4 23,54.4 23.5,53.9 24,52.6 23.5,51 24,50.4 22.7,49.2 19,49.4 18.8,49.5 15,50.8 14.7,51'],
'Czechia':['12.2,50.3 14.7,51 15,50.8 18.8,49.5 17,48.6 15,49 13.8,48.7'],
'Slovakia':['17,48.6 18.8,49.5 19,49.4 22.7,49.2 22.3,48.3 19,48 17.2,48'],
'Austria':['9.6,47.5 10.4,47.3 13,47.5 13.8,48.7 15,49 17,48.6 17.2,48 16,46.8 13.7,46.5 12.2,47 10.4,46.8'],
'Hungary':['16,46.8 17.2,48 19,48 22.3,48.3 22.9,48 21,46.2 18.8,45.9 16.4,46.5'],
'Slovenia':['13.7,46.5 16,46.8 16.4,46.5 15.5,45.5 13.6,45.5'],
'Italy':['7,45.8 7.8,45.9 9,45.9 10.4,46.8 12.2,47 13.7,46.5 13.6,45.5 12.3,45.4 12.4,44.2 13.6,43.5 14.7,42.2 16,41.9 18.5,40.2 18.3,39.8 17,40.5 16.5,39.7 17.2,39 16,38 15.7,38.2 16.2,39.5 15,40.2 13,41.3 10.5,42.9 10,44 8.5,44.3 7.5,43.8','12.5,38 15.6,38.2 15.2,36.7 12.5,37.6','8.2,41 9.7,41 9.6,39.2 8.5,39'],
'Croatia':['13.6,45.5 15.5,45.5 16.4,46.5 18.8,45.9 19,45 16,45.2 15.8,44.7 17.5,43 18.5,42.5 16,43.5 14.5,45 13.6,44.9'],
'Greece':['20.2,39.7 21,40.8 23,41.3 26.3,41.7 26.1,40.7 24,40.8 23.5,40 22.7,40.3 23.2,39 24,38 23,37.9 23,36.5 22.4,36.6 21.7,36.9 21.2,38 21.1,38.5','23.6,35.6 26.3,35.3 24.5,35','25.8,39.3 26.6,39.3 26.3,38.9'],
'Bulgaria':['22.7,44.3 24,43.7 27,44.1 28.6,43.7 27.8,42 26.3,41.8 26.3,41.7 23,41.3 22.4,42.3 22.4,43'],
'Romania':['22.9,48 24.9,47.7 26.6,48.3 28.2,45.6 29.7,45.2 28.7,44 28.6,43.7 27,44.1 24,43.7 22.7,44.3 21,46.2'],
'Lithuania':['21,55.3 21,56.4 25,56.4 26.6,55.6 25.5,54.3 23.5,53.9 23,54.4 22.8,54.4 22,55.1'],
'Latvia':['21,56.4 21.5,57.6 24.4,57.3 25,58 27.4,57.5 28.2,56.1 26.6,55.6 25,56.4'],
'Estonia':['23.5,59.2 28,59.5 27.4,57.5 25,58 24.4,57.5'],
'Finland':['21,69 24,68.6 26,69.9 28,70 29.5,69 29,66.9 29.7,64.5 31,62.5 28.5,60.7 25,60.2 22.8,59.9 21.3,60.6 21,61 21.5,63 25,65 24,65.8 23.7,68 20.6,69'],
'Sweden':['11.2,59 11.2,58 12.7,56 13,55.4 14.3,55.5 16.5,56.5 16.5,58 19,59.8 17.2,60.8 17.5,62.5 21.3,64.5 22,65.5 24,65.8 23.7,68 20.6,69 18,68.5 14.5,66 13.7,64.5 12,63.5 12.3,61','18.2,57.4 19.2,57.9 18.7,57.2','16.4,56.2 17,57.2 16.5,57.2'],
'Ireland':['-7.2,55.2 -8.5,55 -10,54.2 -10,52 -8.5,51.5 -6.3,52.2 -6.1,53.5 -6.2,54.1 -7.5,54.2'],
'Cyprus':['32.3,35 33,35.4 34.6,35.7 33.8,34.9 33,34.6']
};

// parallels of the map: latitude -> height above the equator and px per degree of longitude
var latSteps = [0,5,10,15,20,25,30,35,40,45,50,55,60,65,70,75,80,85,90];
var latHeight = [0,.062,.124,.186,.248,.31,.372,.434,.4958,.5571,.6176,.6769,.7346,.7903,.8435,.8936,.9394,.9761,1];
var lonScale = [3.55,3.55,3.54,3.52,3.5,3.47,3.42,3.37,3.3,3.22,3.12,3.04,2.95,2.84,2.72,2.61,2.5,2.4,2.3];
var lonScaleSouth = [3.55,3.55,3.54,3.52,3.48,3.44,3.4,3.33,3.25,3.17,3.1,3.04,2.95,2.84,2.72,2.61,2.5,2.4,2.3];

function interp(table, lat) {
	var a = Math.min(Math.abs(lat), 89.999), i = Math.floor(a / 5), t = a / 5 - i;
	return table[i] + (table[i + 1] - table[i]) * t;
}
var mapProjection = {
	project: function (p) {
		var h = interp(latHeight, p[1]) * 333;
		return [583 + p[0] * interp(p[1] < 0 ? lonScaleSouth : lonScale, p[1]), 495 + (p[1] < 0 ? h : -h)];
	},
	unproject: function (p) {
		var h = Math.abs(p[1] - 495) / 333, i = 0;
		while (i < 17 && latHeight[i + 1] < h) i++;
		var lat = latSteps[i] + 5 * (h - latHeight[i]) / (latHeight[i + 1] - latHeight[i]);
		lat = p[1] > 495 ? -lat : lat;
		return [(p[0] - 583) / interp(lat < 0 ? lonScaleSouth : lonScale, lat), lat];
	}
};

var box = [1e9, 1e9, -1e9, -1e9];
var features = Object.keys(borders).map(function (name) {
	var rings = borders[name].map(function (s) {
		var ring = s.split(' ').map(function (c) { return c.split(',').map(Number); });
		ring.forEach(function (c) {
			var q = mapProjection.project(c);
			box = [Math.min(box[0], q[0]), Math.min(box[1], q[1]), Math.max(box[2], q[0]), Math.max(box[3], q[1])];
		});
		ring.push(ring[0]);
		return [ring];
	});
	return { type: 'Feature', properties: { name: name }, geometry: { type: 'MultiPolygon', coordinates: rings } };
});
echarts.registerMap('world', { type: 'FeatureCollection', features: features });

// diagonal hatch for the US
var tile = document.createElement('canvas');
tile.width = tile.height = 10;
var g = tile.getContext('2d');
g.fillStyle = '#e4796b';
g.fillRect(0, 0, 10, 10);
g.strokeStyle = '#85504a';
g.lineWidth = 1.3;
g.beginPath();
g.moveTo(-2, 12); g.lineTo(12, -2);
g.moveTo(-2, 2); g.lineTo(2, -2);
g.moveTo(8, 12); g.lineTo(12, 8);
g.stroke();

function style(color, border, width) {
	return { itemStyle: { areaColor: color, borderColor: border || '#fff', borderWidth: width || 0.7 } };
}
var groups = [
	[submittedStrong, '#0b4572'],
	[submitted, '#5b94d2'],
	[announced, '#b9e9fb']
];
var mapData = [];
groups.forEach(function (grp) {
	grp[0].forEach(function (n) { mapData.push(Object.assign({ name: n }, style(grp[1]))); });
});
withdrawn.forEach(function (n) { mapData.push(Object.assign({ name: n }, style({ image: tile, repeat: 'repeat' }))); });
euMembers.forEach(function (n) { mapData.push(Object.assign({ name: n }, style('#dcdcdc', '#222', 1.1))); });

var bodyFont = '"Noto Sans", sans-serif';
var narrowFont = '"Liberation Sans", sans-serif';
var myChart = echarts.init(document.getElementById('main'));
myChart.setOption({
	animation: false,
	series: [{
		type: 'map',
		map: 'world',
		projection: mapProjection,
		left: box[0], top: box[1], width: box[2] - box[0], height: box[3] - box[1],
		roam: false,
		silent: true,
		selectedMode: false,
		label: { show: false },
		emphasis: { disabled: true },
		itemStyle: { areaColor: '#dcdcdc', borderColor: '#fff', borderWidth: 0.7 },
		data: mapData
	}],
	graphic: [
		// white wash behind the EU note
		{ type: 'rect', z: 50, shape: { x: 297, y: 150, width: 262, height: 136 },
			style: { fill: { type: 'linear', x: 0, y: 0, x2: 1, y2: 0, colorStops: [
				{ offset: 0, color: 'rgba(255,255,255,.05)' }, { offset: .12, color: 'rgba(255,255,255,.62)' },
				{ offset: .7, color: 'rgba(255,255,255,.7)' }, { offset: .85, color: 'rgba(255,255,255,.35)' }, { offset: 1, color: 'rgba(255,255,255,0)' }] } } },
		{ type: 'rect', z: 50, shape: { x: 322, y: 286, width: 150, height: 24 },
			style: { fill: { type: 'linear', x: 0, y: 0, x2: 0, y2: 1, colorStops: [
				{ offset: 0, color: 'rgba(255,255,255,.62)' }, { offset: 1, color: 'rgba(255,255,255,0)' }] } } },
		{ type: 'bezierCurve', z: 60, shape: { x1: 49, y1: 437, cpx1: 62, cpy1: 385, cpx2: 105, cpy2: 347, x2: 176, y2: 342 },
			style: { stroke: '#333', lineWidth: 1.4, fill: null } },
		{ type: 'bezierCurve', z: 60, shape: { x1: 418, y1: 297, cpx1: 445, cpy1: 330, cpx2: 505, cpy2: 338, x2: 555, y2: 320 },
			style: { stroke: '#333', lineWidth: 1.4, fill: null } },
		{ type: 'text', z: 60, x: 24, y: 29, scaleX: 0.82, style: { text: 'One-third of nations – covering half of global emissions –\nhave submitted or announced 2035 climate pledges', font: 'bold 47px ' + narrowFont, lineHeight: 57, fill: '#333', stroke: '#333', lineWidth: 0.6 } },
		{ type: 'text', z: 60, x: 313, y: 155, style: { text: 'The EU has given\na “statement of intent”,\nbut is yet to formally\nsubmit its NDC', font: '26px ' + bodyFont, lineHeight: 35.7, fill: '#111' } },
		{ type: 'text', z: 60, x: 25, y: 439, style: { text: 'The US withdrew from\nthe Paris Agreement\nin January 2025', font: '26px ' + bodyFont, lineHeight: 35.7, fill: '#111' } },
		{ type: 'text', z: 60, x: 18, y: 748, style: { rich: { b: { font: 'bold 22.4px ' + bodyFont, fill: '#6b6b6b' } }, text: '{b|Source}: Carbon Brief analysis', font: '22.4px ' + bodyFont, fill: '#6b6b6b' } },
		{ type: 'text', z: 60, x: 944, y: 705, scaleX: 0.64, style: { text: 'Carbon', font: 'bold 65px ' + narrowFont, fill: '#0b4572' } },
		{ type: 'text', z: 60, x: 1084, y: 705, scaleX: 0.615, style: { text: 'Brief', font: 'bold 65px ' + narrowFont, fill: '#2a8ccf' } },
		{ type: 'text', z: 60, x: 992, y: 760, scaleX: 1.2, style: { text: 'C L E A R   O N   C L I M A T E', font: 'bold 11px ' + bodyFont, fill: '#0b4572' } }
	]
});
</script>
</body>
</html>
